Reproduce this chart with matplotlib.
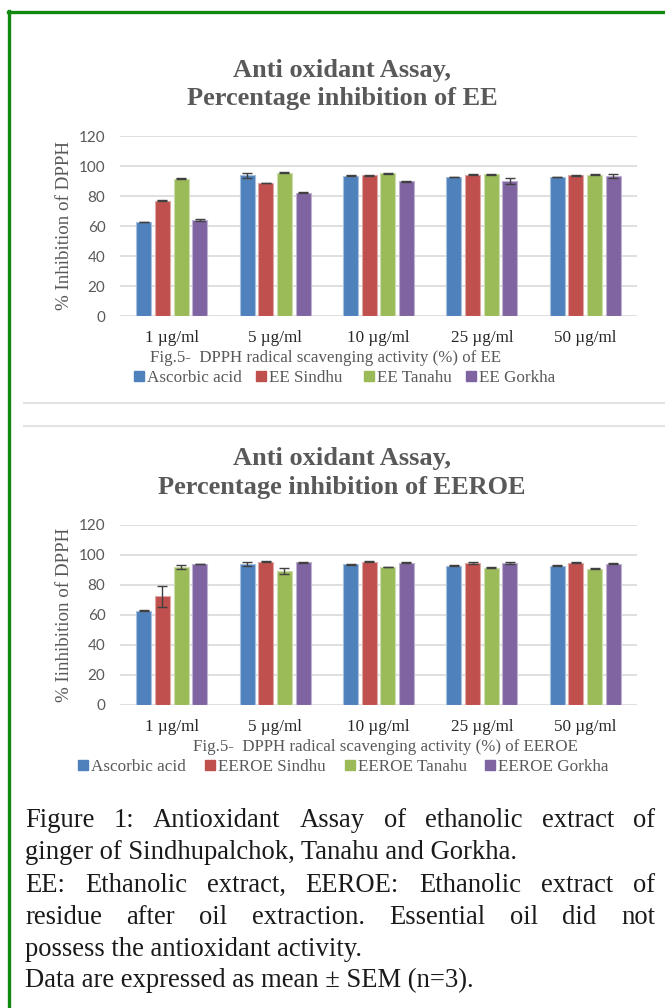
import matplotlib
matplotlib.use("Agg")
import matplotlib.pyplot as plt
import numpy as np
from matplotlib.lines import Line2D

# ---------------- data ----------------
concentrations = ["1 µg/ml", "5 µg/ml", "10 µg/ml", "25 µg/ml", "50 µg/ml"]

ee_series = ["Ascorbic acid", "EE Sindhu", "EE Tanahu", "EE Gorkha"]
ee_ascorbic = [62.7, 93.8, 93.4, 92.8, 92.8]
ee_sindhu = [76.8, 88.8, 93.8, 94.2, 93.8]
ee_tanahu = [91.6, 95.4, 95.2, 94.4, 94.1]
ee_gorkha = [64.0, 82.2, 89.9, 90.2, 93.2]
ee_ascorbic_err = [0.3, 1.6, 0.3, 0.2, 0.2]
ee_sindhu_err = [0.4, 0.2, 0.4, 0.3, 0.4]
ee_tanahu_err = [0.5, 0.3, 0.4, 0.4, 0.3]
ee_gorkha_err = [0.5, 0.3, 0.3, 1.9, 1.2]

eeroe_series = ["Ascorbic acid", "EEROE Sindhu", "EEROE Tanahu", "EEROE Gorkha"]
eeroe_ascorbic = [62.8, 94.1, 93.7, 93.0, 93.0]
eeroe_sindhu = [72.5, 95.6, 95.6, 94.6, 95.0]
eeroe_tanahu = [91.8, 89.3, 92.0, 91.5, 90.9]
eeroe_gorkha = [94.1, 95.1, 95.0, 94.7, 94.2]
eeroe_ascorbic_err = [0.3, 1.3, 0.4, 0.4, 0.4]
eeroe_sindhu_err = [7.0, 0.3, 0.5, 0.5, 0.5]
eeroe_tanahu_err = [1.4, 1.9, 0.3, 0.3, 0.5]
eeroe_gorkha_err = [0.2, 0.2, 0.2, 0.4, 0.3]

yticks = [0, 20, 40, 60, 80, 100, 120]

colors = ["#4F81BD", "#C0504D", "#9BBB59", "#8064A2"]
edge_colors = ["#A7C0DE", "#DFA8A6", "#CDDDAC", "#BFB1D0"]
GRAY = "#595959"
SERIF = "Liberation Serif"

W, H = 665, 1008
fig = plt.figure(figsize=(W / 100, H / 100), dpi=100)
fig.patch.set_facecolor("white")


def fx(px):
    return px / W


def fy(py):
    return 1 - py / H


def draw_chart(top_px, title2, ylabel, series, means, errs, caption, cap_x,
               leg_x, leg_size):
    bottom_px = top_px + 180
    ax = fig.add_axes([fx(120), fy(bottom_px), fx(637) - fx(120), 180 / H])
    x = np.arange(len(concentrations))
    step = 0.18
    width = 0.145
    offs = [-1.5, -0.5, 0.5, 1.5]
    for i in range(4):
        ax.bar(x + offs[i] * step, means[i], width=width, color=colors[i],
               edgecolor=edge_colors[i], linewidth=0.8, zorder=3,
               yerr=errs[i], error_kw=dict(ecolor="#404040", elinewidth=1.0,
                                           capsize=3.5, capthick=1.0, zorder=4))
    ax.set_xlim(-0.5, 4.5)
    ax.set_ylim(0, 120)
    ax.set_yticks(yticks)
    ax.yaxis.grid(True, color="#D9D9D9", linewidth=1.2, zorder=0)
    ax.set_axisbelow(True)
    for s in ["top", "right", "left", "bottom"]:
        ax.spines[s].set_visible(False)
    ax.tick_params(axis="both", length=0)
    ax.tick_params(axis="y", pad=10.5, labelsize=11, labelcolor=GRAY)
    for lab in ax.get_yticklabels():
        lab.set_fontfamily("Lato")
    ax.set_xticks(x)
    ax.set_xticklabels(concentrations, fontsize=12.3, color="#262626", fontfamily=SERIF)
    ax.tick_params(axis="x", pad=10)
    # y label
    fig.text(fx(64.5), fy(top_px + 90), ylabel, rotation=90, ha="center", va="center",
             fontsize=13.7, color=GRAY, fontfamily=SERIF)
    # titles
    fig.text(fx(342), fy(top_px - 66), "Anti oxidant Assay,", ha="center", va="center",
             fontsize=19, fontweight="bold", color=GRAY, fontfamily=SERIF)
    fig.text(fx(342), fy(top_px - 38), title2, ha="center", va="center",
             fontsize=19, fontweight="bold", color=GRAY, fontfamily=SERIF)
    # caption
    fig.text(fx(cap_x), fy(bottom_px + 42), caption, ha="center", va="center",
             fontsize=12.2, color=GRAY, fontfamily=SERIF)
    # legend entries, one per series, positioned like the reference
    for i in range(4):
        h = Line2D([], [], marker="s", linestyle="none", markersize=7,
                   markerfacecolor=colors[i], markeredgecolor=colors[i])
        fig.legend([h], [series[i]], loc="center left",
                   bbox_to_anchor=(fx(leg_x[i]), fy(bottom_px + 62)),
                   frameon=False, handlelength=0.6, handletextpad=0.15,
                   borderpad=0, borderaxespad=0,
                   prop={"family": SERIF, "size": leg_size}, labelcolor=GRAY)
    return ax


draw_chart(136, "Percentage inhibition of EE", "% Inhibition of DPPH", ee_series,
           [ee_ascorbic, ee_sindhu, ee_tanahu, ee_gorkha],
           [ee_ascorbic_err, ee_sindhu_err, ee_tanahu_err, ee_gorkha_err],
           "Fig.5-  DPPH radical scavenging activity (%) of EE", 325,
           [134, 256, 364, 466], 12.3)

draw_chart(525, "Percentage inhibition of EEROE", "% Iinhibition of DPPH", eeroe_series,
           [eeroe_ascorbic, eeroe_sindhu, eeroe_tanahu, eeroe_gorkha],
           [eeroe_ascorbic_err, eeroe_sindhu_err, eeroe_tanahu_err, eeroe_gorkha_err],
           "Fig.5-  DPPH radical scavenging activity (%) of EEROE", 385,
           [78, 205, 345, 485], 12.3)

# green frame
green = "#0F8A0F"
fig.add_artist(Line2D([fx(9), fx(9)], [fy(11), fy(1008)], color=green, linewidth=2.4,
                      transform=fig.transFigure))
fig.add_artist(Line2D([fx(8), fx(665)], [fy(12), fy(12)], color=green, linewidth=2.4,
                      transform=fig.transFigure))
# separator lines
for yy in (403, 426):
    fig.add_artist(Line2D([fx(24), fx(665)], [fy(yy), fy(yy)], color="#E3E3E3",
                          linewidth=1.5, transform=fig.transFigure))

# paragraph with justification
para_lines = [
    ("Figure 1: Antioxidant Assay of ethanolic extract of", True),
    ("ginger of Sindhupalchok, Tanahu and Gorkha.", False),
    ("EE: Ethanolic extract, EEROE: Ethanolic extract of", True),
    ("residue after oil extraction. Essential oil did not", True),
    ("possess the antioxidant activity.", False),
    ("Data are expressed as mean ± SEM (n=3).", False),
]
baselines = [827, 859, 892, 924, 956, 987]
left_px, right_px = 25, 655
renderer = fig.canvas.get_renderer()

# size the paragraph font so that line 2 spans about the same width as in the reference
probe = fig.text(0, 0, para_lines[1][0], fontsize=15, fontfamily=SERIF)
w15 = probe.get_window_extent(renderer).width
probe.remove()
psize = 15 * 495 / w15

pfont = dict(fontsize=psize, color="#1a1a1a", fontfamily=SERIF)
for (line, just), base in zip(para_lines, baselines):
    if not just:
        fig.text(fx(left_px), fy(base), line, ha="left", va="baseline", **pfont)
        continue
    words = line.split(" ")
    texts = [fig.text(0, fy(base), w, ha="left", va="baseline", **pfont) for w in words]
    widths = [t.get_window_extent(renderer).width for t in texts]
    gap = (right_px - left_px - sum(widths)) / (len(words) - 1)
    xpos = left_px
    for t, wdt in zip(texts, widths):
        t.set_x(fx(xpos))
        xpos += wdt + gap

fig.savefig("out.png", dpi=100)
